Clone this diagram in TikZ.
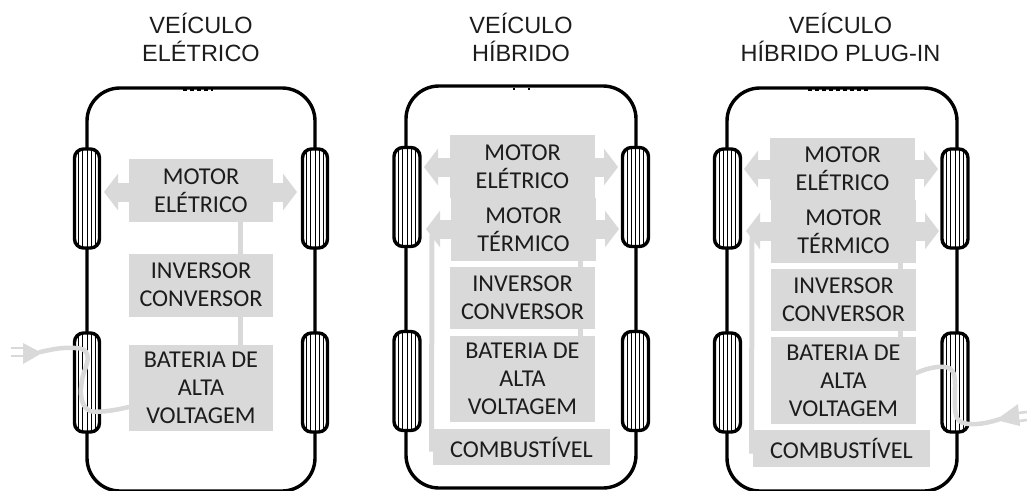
\documentclass[tikz,border=0pt]{standalone}
\usepackage{fontspec}
\setmainfont{Carlito}
\newfontfamily\titlefont{Liberation Sans}
\usetikzlibrary{arrows.meta,calc}
\definecolor{boxgray}{HTML}{D9D9D9}
\definecolor{inkgray}{HTML}{1C1C1C}
\tikzset{
  x=1pt,y=-1pt,
  body/.style={draw=black,line width=3.4pt,rounded corners=33pt},
  wheel/.style={draw=black,line width=3.4pt,fill=white,rounded corners=9pt,inner sep=0pt,
    minimum width=#1,minimum height=99pt,
    path picture={\foreach \d in {-8.4,-4.2,0,4.2,8.4}
      \draw[black,line width=1pt] ([xshift=\d pt]path picture bounding box.north) -- ([xshift=\d pt]path picture bounding box.south);}},
  wheel/.default=25pt,
  part/.style={fill=boxgray,text=inkgray,inner sep=0pt,minimum width=#1,align=center,
    font=\fontsize{24.2}{28}\selectfont},
  part/.default=145pt,
  title/.style={align=center,text=inkgray,font=\titlefont\fontsize{23.5}{28}\selectfont},
  link/.style={draw=boxgray,line width=5pt},
  drive/.style={draw=boxgray,line width=19pt,-{Triangle[length=14pt,width=36pt]}},
  cable/.style={draw=boxgray,line width=4.5pt,line cap=round},
  prong/.style={draw=boxgray,line width=2.6pt},
  plugbody/.style={fill=boxgray},
  speck/.style={draw=black,line width=2pt,dash pattern=on 4pt off 3pt}
}
\begin{document}
\begin{tikzpicture}
\useasboundingbox (0,0) rectangle (1027,490);
\clip (0,0) rectangle (1027,490);

% ---------- titles
\node[title] (t1) at (201,37.5) {VEÍCULO\\ELÉTRICO};
\node[title] (t2) at (521,37.5) {VEÍCULO\\HÍBRIDO};
\node[title] (t3) at (840.5,37.5) {VEÍCULO\\HÍBRIDO PLUG-IN};

% ---------- panel 1
\draw[speck] (183,90) -- (213,90);
\draw[body] (87,88) rectangle (315,491);
\node[wheel] (w1a) at (87,198.5) {};
\node[wheel] (w1b) at (315,198.5) {};
\node[wheel] (w1c) at (87,382.5) {};
\node[wheel] (w1d) at (315,382.5) {};
\coordinate (tip1l) at (104,192);
\coordinate (tip1r) at (297,192);
\node[part=144pt,minimum height=63pt] (me1) at (201,190.5) {MOTOR\\ELÉTRICO};
\node[part=144pt,minimum height=63pt] (inv1) at (201,285) {INVERSOR\\CONVERSOR};
\node[part=144pt,minimum height=86pt] (bat1) at (201,388) {BATERIA DE\\ALTA\\VOLTAGEM};
\draw[drive] (me1.west |- tip1l) -- (tip1l);
\draw[drive] (me1.east |- tip1r) -- (tip1r);
\draw[link] (240,222) -- (240,253.5);
\draw[link] (240,316) -- (240,345);
% plug 1
\coordinate (plug1) at (40,352);
\draw[cable] (bat1.west |- 0,407) .. controls (112,411) and (96,413) .. (90,411)
  .. controls (78,406) and (80,385) .. (84,372)
  .. controls (90,358) and (90,348) .. (75,348)
  .. controls (60,347) and (50,350) .. (plug1);
\fill[plugbody] (42,353) -- (23,343) -- (23,364) -- cycle;
\draw[prong] (11,348) -- (23,348);
\draw[prong] (11,356) -- (23,356);

% ---------- panel 2
\draw[speck,dash pattern=on 2pt off 13pt] (513,89) -- (530,89);
\draw[body] (406,86) rectangle (636,488);
\node[wheel=26pt] (w2a) at (407,197) {};
\node[wheel=26pt] (w2b) at (635.5,197) {};
\node[wheel=26pt] (w2c) at (407,381) {};
\node[wheel=26pt] (w2d) at (635.5,381) {};
\coordinate (tip2al) at (424,167);
\coordinate (tip2ar) at (618,167);
\coordinate (tip2bl) at (426,229);
\coordinate (tip2br) at (619,229);
\coordinate (fuel2) at (432,233);
\node[part,minimum height=63pt] (me2) at (522.5,166.5) {MOTOR\\ELÉTRICO};
\node[part,minimum height=63pt] (mt2) at (523.5,229.5) {MOTOR\\TÉRMICO};
\node[part,minimum height=62pt] (inv2) at (522.5,298) {INVERSOR\\CONVERSOR};
\node[part,minimum height=86pt] (bat2) at (522.5,379) {BATERIA DE\\ALTA\\VOLTAGEM};
\node[part=177pt,minimum height=36pt] (fu2) at (521.5,447) {COMBUSTÍVEL};
\draw[drive] (me2.west |- tip2al) -- (tip2al);
\draw[drive] (me2.east |- tip2ar) -- (tip2ar);
\draw[drive] (mt2.west |- tip2bl) -- (tip2bl);
\draw[drive] (mt2.east |- tip2br) -- (tip2br);
\draw[link] (580,261) -- (580,267);
\draw[link] (580,329) -- (580,336);
\draw[link] (fu2.west |- 0,449) -- (431.5,449) -- (fuel2);

% ---------- panel 3
\draw[speck] (808,90) -- (868,90);
\draw[body] (727,88) rectangle (957,491);
\node[wheel=26pt] (w3a) at (727.5,198.5) {};
\node[wheel=26pt] (w3b) at (955,198.5) {};
\node[wheel=26pt] (w3c) at (727.5,382.5) {};
\node[wheel=26pt] (w3d) at (955,382.5) {};
\coordinate (tip3al) at (744,169);
\coordinate (tip3ar) at (938,169);
\coordinate (tip3bl) at (746,231);
\coordinate (tip3br) at (939,231);
\coordinate (fuel3) at (752,235);
\node[part,minimum height=62pt] (me3) at (842.5,169) {MOTOR\\ELÉTRICO};
\node[part,minimum height=63pt] (mt3) at (843.5,231.5) {MOTOR\\TÉRMICO};
\node[part,minimum height=62pt] (inv3) at (843.5,300) {INVERSOR\\CONVERSOR};
\node[part,minimum height=87pt] (bat3) at (843.5,380.5) {BATERIA DE\\ALTA\\VOLTAGEM};
\node[part=177pt,minimum height=37pt] (fu3) at (841.5,448.5) {COMBUSTÍVEL};
\draw[drive] (me3.west |- tip3al) -- (tip3al);
\draw[drive] (me3.east |- tip3ar) -- (tip3ar);
\draw[drive] (mt3.west |- tip3bl) -- (tip3bl);
\draw[drive] (mt3.east |- tip3br) -- (tip3br);
\draw[link] (900,263) -- (900,269);
\draw[link] (900,331) -- (900,337);
\draw[link] (fu3.west |- 0,451) -- (751.5,451) -- (fuel3);
% plug 3
\coordinate (plug3) at (1000,419);
\draw[cable] (bat3.east |- 0,373) .. controls (925,369) and (936,366) .. (945,367)
  .. controls (953,368) and (955,373) .. (955,385)
  .. controls (955,400) and (954,412) .. (957,418)
  .. controls (960,426) and (980,426) .. (plug3);
\fill[plugbody] (996,420) -- (1018,404) -- (1020,426) -- cycle;
\draw[prong] (1018,413) -- (1027,412);
\draw[prong] (1019,421) -- (1027,420);
\end{tikzpicture}
\end{document}
